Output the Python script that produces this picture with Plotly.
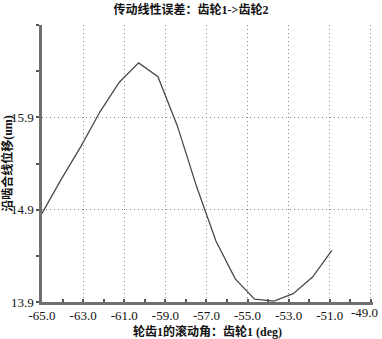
import plotly.graph_objects as go

# Data
roll_angle_deg = [-65.0, -64.06, -63.12, -62.18, -61.24, -60.30, -59.36, -58.42,
                  -57.48, -56.54, -55.60, -54.66, -53.72, -52.78, -51.84, -50.90]
displacement_um = [14.86, 15.23, 15.58, 15.96, 16.28, 16.49, 16.34, 15.81,
                   15.15, 14.56, 14.15, 13.93, 13.91, 13.99, 14.17, 14.46]

x_tick_vals = [-65, -63, -61, -59, -57, -55, -53, -51, -49]
x_tick_text = ["-65.0", "-63.0", "-61.0", "-59.0", "-57.0", "-55.0", "-53.0", "-51.0", "-49.0"]
y_tick_vals = [13.9, 14.9, 15.9]
y_tick_text = ["13.9", "14.9", "15.9"]

title_text = "传动线性误差：齿轮1->齿轮2"
x_title = "轮齿1的滚动角：齿轮1 (deg)"
y_title = "沿啮合线位移(um)"

cjk = "Liberation Serif, Noto Sans CJK SC"
tickfont = dict(family="Liberation Serif, Times New Roman, serif", size=13, color="#111")

fig = go.Figure()
fig.add_trace(go.Scatter(
    x=roll_angle_deg, y=displacement_um, mode="lines",
    line=dict(color="#4a4a4a", width=1.3),
    showlegend=False, hoverinfo="skip",
))

fig.update_layout(
    width=382, height=339,
    margin=dict(l=42, r=9, t=25, b=37),
    paper_bgcolor="white", plot_bgcolor="white",
    title=dict(text=title_text, x=0.5, xanchor="center", y=0.97, yanchor="middle",
               font=dict(family=cjk, size=12, color="#111", weight="bold")),
)

# the last x tick label sits at the right edge; draw it right-aligned so it stays inside the picture
shown_x_text = x_tick_text[:-1] + [""]
fig.add_annotation(
    x=x_tick_vals[-1], y=0, xref="x", yref="paper",
    text=x_tick_text[-1], showarrow=False, font=tickfont,
    xanchor="right", yanchor="middle", xshift=9, yshift=-10,
)

grid_dash = "1px,3px"
fig.update_xaxes(
    range=[-65, -48.9], tickvals=x_tick_vals, ticktext=shown_x_text,
    tickfont=tickfont,
    showline=True, linecolor="#707070", linewidth=2.5,
    ticks="inside", ticklen=3, tickcolor="#555", tickwidth=1.5,
    minor=dict(dtick=1, tick0=-65, ticks="inside", ticklen=3, tickcolor="#555", tickwidth=1.5, showgrid=False),
    showgrid=True, gridcolor="#8a8a8a", griddash=grid_dash, gridwidth=1,
    zeroline=False, automargin=False,
    title=dict(text=x_title, font=dict(family=cjk, size=12, color="#111", weight="bold"), standoff=6),
)
fig.update_yaxes(
    range=[13.9, 16.9], tickvals=y_tick_vals, ticktext=y_tick_text,
    tickfont=tickfont, ticklabeloverflow="allow",
    showline=True, linecolor="#707070", linewidth=2.5,
    ticks="outside", ticklen=3, tickcolor="#555", tickwidth=1.5,
    minor=dict(dtick=0.5, tick0=13.9, ticks="outside", ticklen=3, tickcolor="#555", tickwidth=1.5, showgrid=False),
    showgrid=True, gridcolor="#8a8a8a", griddash=grid_dash, gridwidth=1,
    zeroline=False, automargin=False,
    title=dict(text=y_title, font=dict(family=cjk, size=12, color="#111", weight="bold"), standoff=4),
)

fig.write_html("out.html", config={"displayModeBar": False},
               post_script="document.body.style.margin='0';")
